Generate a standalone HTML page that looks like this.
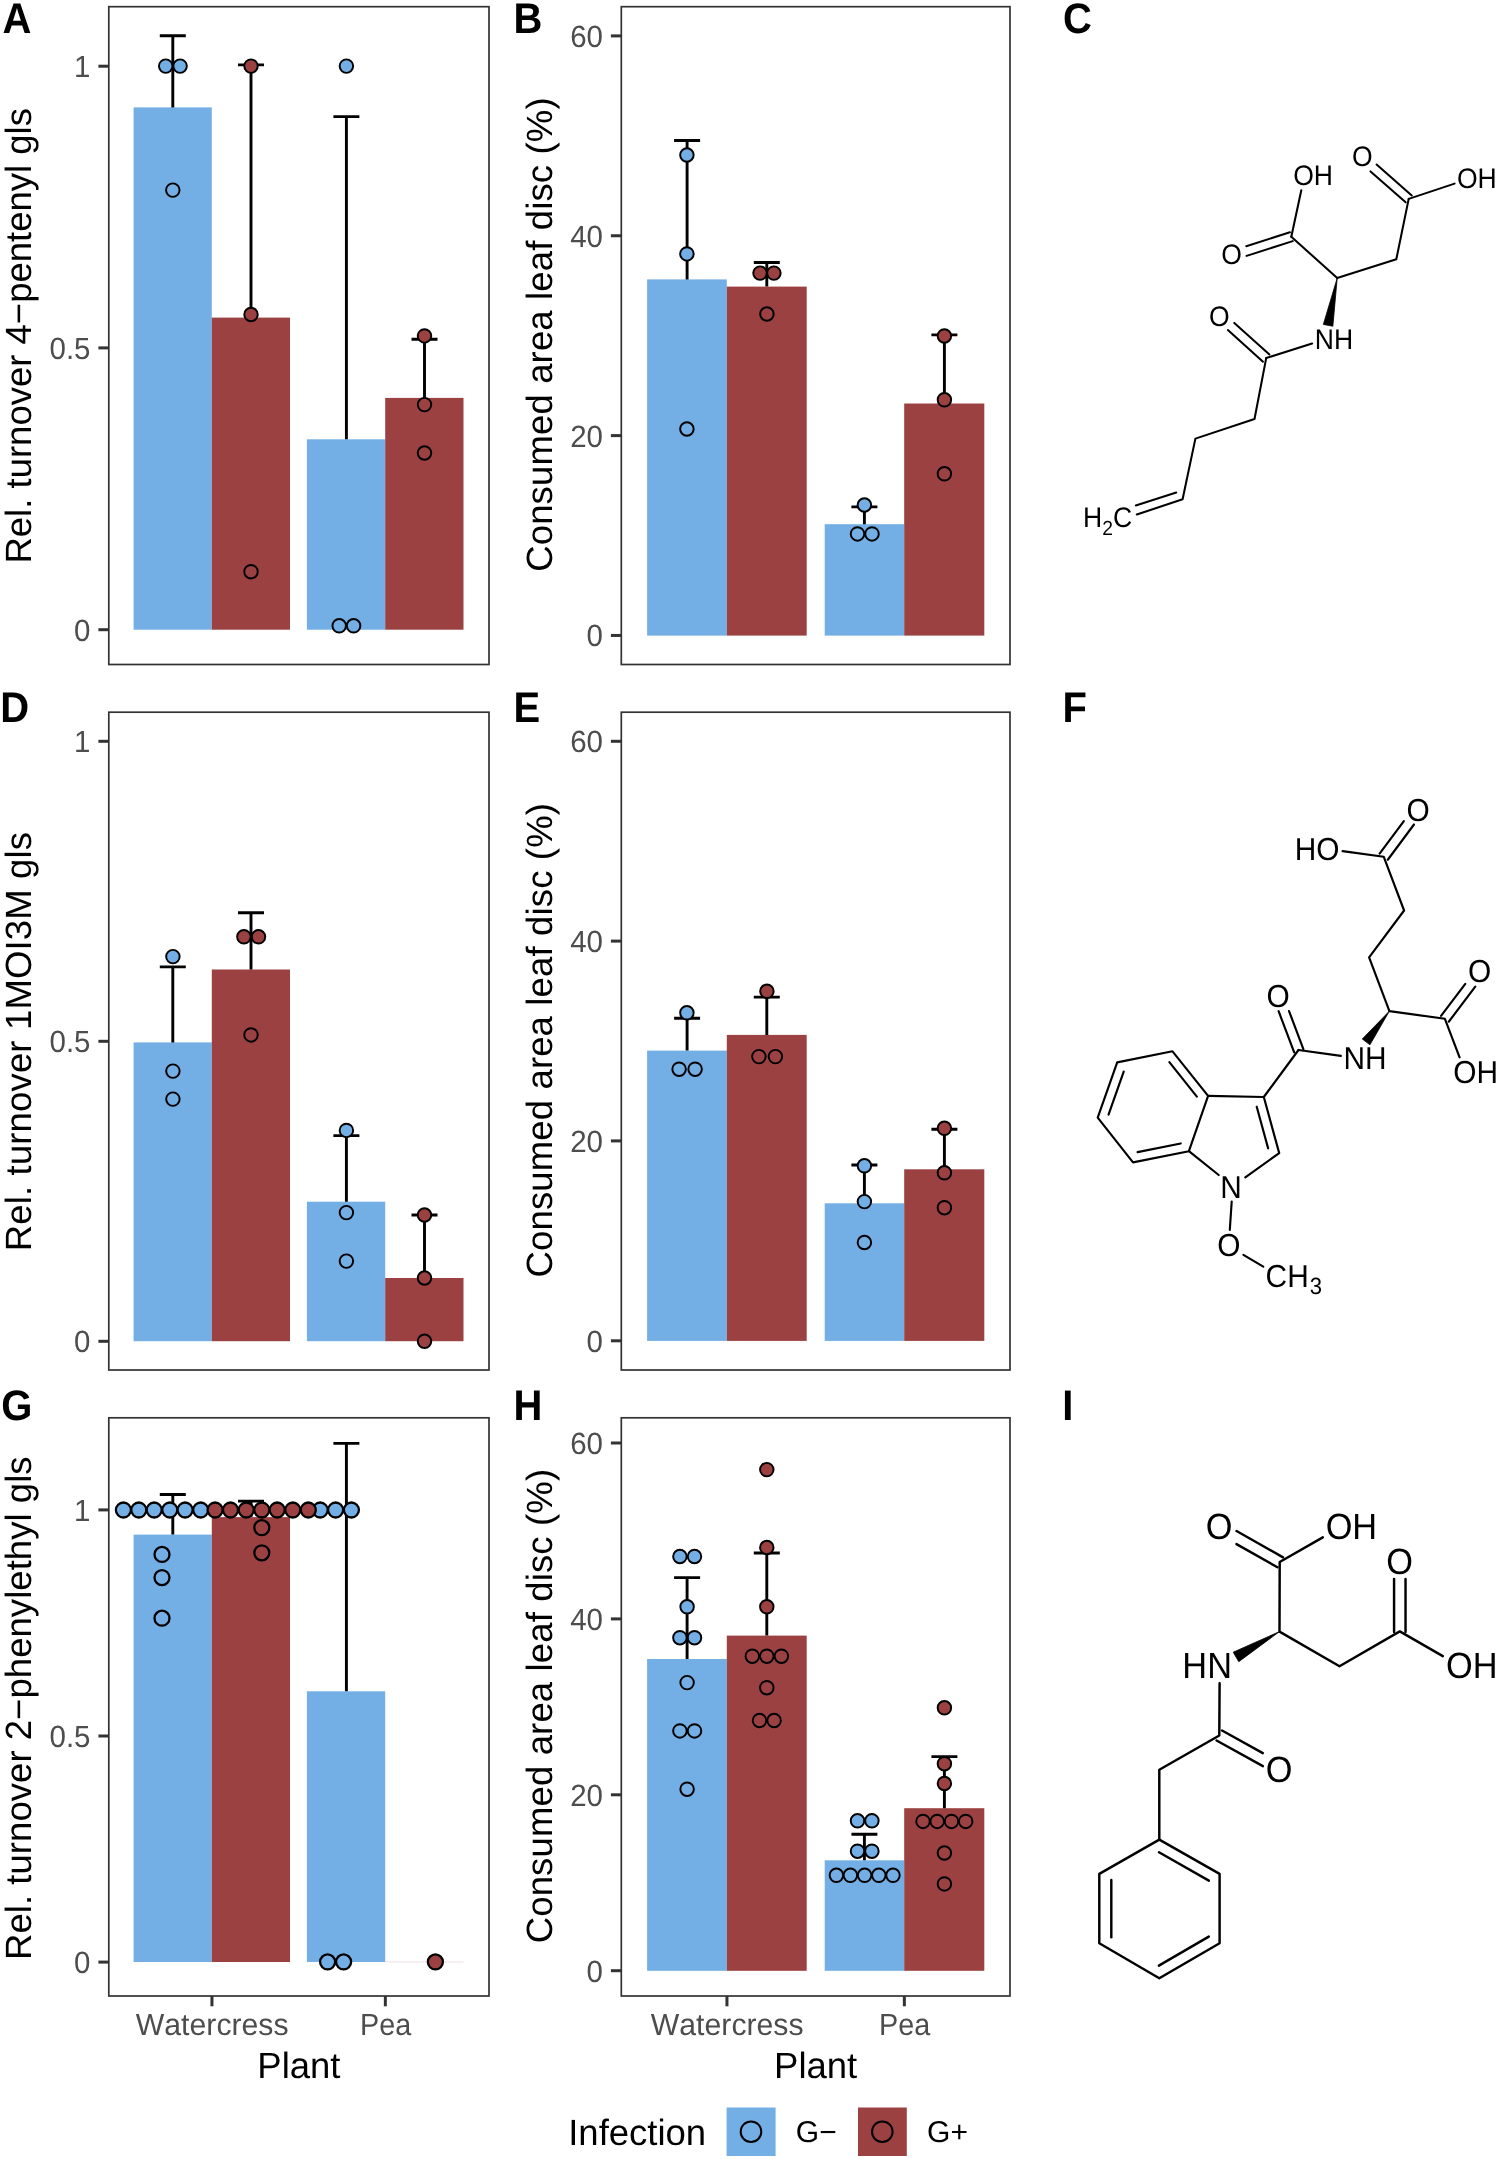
<!DOCTYPE html>
<html lang="en">
<head>
<meta charset="utf-8">
<title>Figure</title>
<style>
html,body{margin:0;padding:0;background:#fff;}
body{width:1499px;height:2159px;overflow:hidden;}
svg{display:block;will-change:transform;font-family:"Liberation Sans",sans-serif;font-kerning:none;text-rendering:geometricPrecision;}
</style>
</head>
<body>
<svg width="1499" height="2159" viewBox="0 0 1499 2159">
<rect width="1499" height="2159" fill="#ffffff"/>
<g class="charts">
<rect x="133.6" y="107.4" width="78.2" height="522.3" fill="#73AFE5"/>
<rect x="211.8" y="317.6" width="78.2" height="312.1" fill="#9B4142"/>
<rect x="306.9" y="439.3" width="78.3" height="190.4" fill="#73AFE5"/>
<rect x="385.2" y="397.9" width="78.3" height="231.8" fill="#9B4142"/>
<path d="M159.8 35.8H185.8M172.8 35.8V107.4" stroke="#000" stroke-width="2.9" fill="none"/>
<path d="M238 64.9H264M251 64.9V317.6" stroke="#000" stroke-width="2.9" fill="none"/>
<path d="M333.4 116.6H359.4M346.4 116.6V439.3" stroke="#000" stroke-width="2.9" fill="none"/>
<path d="M411.5 339.2H437.5M424.5 339.2V397.9" stroke="#000" stroke-width="2.9" fill="none"/>
<circle cx="165.7" cy="66.1" r="6.75" fill="#73AFE5" stroke="#000" stroke-width="1.95"/>
<circle cx="180.1" cy="66.1" r="6.75" fill="#73AFE5" stroke="#000" stroke-width="1.95"/>
<circle cx="172.8" cy="190.1" r="6.75" fill="#73AFE5" stroke="#000" stroke-width="1.95"/>
<circle cx="251" cy="66.1" r="6.75" fill="#9B4142" stroke="#000" stroke-width="1.95"/>
<circle cx="251" cy="314.5" r="6.75" fill="#9B4142" stroke="#000" stroke-width="1.95"/>
<circle cx="251" cy="571.7" r="6.75" fill="#9B4142" stroke="#000" stroke-width="1.95"/>
<circle cx="346.4" cy="66.1" r="6.75" fill="#73AFE5" stroke="#000" stroke-width="1.95"/>
<circle cx="339.2" cy="625.8" r="6.75" fill="#73AFE5" stroke="#000" stroke-width="1.95"/>
<circle cx="353.6" cy="625.8" r="6.75" fill="#73AFE5" stroke="#000" stroke-width="1.95"/>
<circle cx="424.5" cy="335.9" r="6.75" fill="#9B4142" stroke="#000" stroke-width="1.95"/>
<circle cx="424.5" cy="404.6" r="6.75" fill="#9B4142" stroke="#000" stroke-width="1.95"/>
<circle cx="424.5" cy="453" r="6.75" fill="#9B4142" stroke="#000" stroke-width="1.95"/>
<rect x="108.8" y="6.7" width="380.2" height="657.8" fill="none" stroke="#333333" stroke-width="1.7"/>
<line x1="98.4" x2="108.8" y1="66.2" y2="66.2" stroke="#333333" stroke-width="3"/>
<text x="90.5" y="77.15" font-size="30.7" fill="#4D4D4D" text-anchor="end" textLength="16.4" lengthAdjust="spacingAndGlyphs">1</text>
<line x1="98.4" x2="108.8" y1="347.9" y2="347.9" stroke="#333333" stroke-width="3"/>
<text x="90.5" y="358.85" font-size="30.7" fill="#4D4D4D" text-anchor="end" textLength="41.01" lengthAdjust="spacingAndGlyphs">0.5</text>
<line x1="98.4" x2="108.8" y1="629.7" y2="629.7" stroke="#333333" stroke-width="3"/>
<text x="90.5" y="640.65" font-size="30.7" fill="#4D4D4D" text-anchor="end" textLength="16.4" lengthAdjust="spacingAndGlyphs">0</text>
<text transform="translate(31.1 335.8) rotate(-90)" font-size="36.5" fill="#000" text-anchor="middle">Rel. turnover 4−pentenyl gls</text>
<text transform="translate(2.6 32.7) scale(0.935 1)" font-size="42.8" font-weight="bold" fill="#000">A</text>
<rect x="647.1" y="279.4" width="79.7" height="356.2" fill="#73AFE5"/>
<rect x="726.8" y="286.6" width="79.9" height="349" fill="#9B4142"/>
<rect x="824.7" y="524.2" width="79.5" height="111.4" fill="#73AFE5"/>
<rect x="904.2" y="403.5" width="80.1" height="232.1" fill="#9B4142"/>
<path d="M674.1 140.5H700.1M687.1 140.5V279.4" stroke="#000" stroke-width="2.9" fill="none"/>
<path d="M753.8 262.5H779.8M766.8 262.5V286.6" stroke="#000" stroke-width="2.9" fill="none"/>
<path d="M851.4 506.9H877.4M864.4 506.9V524.2" stroke="#000" stroke-width="2.9" fill="none"/>
<path d="M931.4 334.9H957.4M944.4 334.9V403.5" stroke="#000" stroke-width="2.9" fill="none"/>
<circle cx="686.9" cy="155" r="6.75" fill="#73AFE5" stroke="#000" stroke-width="1.95"/>
<circle cx="686.9" cy="253.9" r="6.75" fill="#73AFE5" stroke="#000" stroke-width="1.95"/>
<circle cx="686.9" cy="429" r="6.75" fill="#73AFE5" stroke="#000" stroke-width="1.95"/>
<circle cx="760" cy="273.1" r="6.75" fill="#9B4142" stroke="#000" stroke-width="1.95"/>
<circle cx="773.9" cy="273.1" r="6.75" fill="#9B4142" stroke="#000" stroke-width="1.95"/>
<circle cx="766.9" cy="314" r="6.75" fill="#9B4142" stroke="#000" stroke-width="1.95"/>
<circle cx="864.4" cy="505" r="6.75" fill="#73AFE5" stroke="#000" stroke-width="1.95"/>
<circle cx="857.5" cy="533.9" r="6.75" fill="#73AFE5" stroke="#000" stroke-width="1.95"/>
<circle cx="872" cy="533.9" r="6.75" fill="#73AFE5" stroke="#000" stroke-width="1.95"/>
<circle cx="944.4" cy="336" r="6.75" fill="#9B4142" stroke="#000" stroke-width="1.95"/>
<circle cx="944.4" cy="399.8" r="6.75" fill="#9B4142" stroke="#000" stroke-width="1.95"/>
<circle cx="944.4" cy="473.8" r="6.75" fill="#9B4142" stroke="#000" stroke-width="1.95"/>
<rect x="621.3" y="6.7" width="388.7" height="657.8" fill="none" stroke="#333333" stroke-width="1.7"/>
<line x1="610.9" x2="621.3" y1="35.9" y2="35.9" stroke="#333333" stroke-width="3"/>
<text x="603" y="46.85" font-size="30.7" fill="#4D4D4D" text-anchor="end" textLength="32.8" lengthAdjust="spacingAndGlyphs">60</text>
<line x1="610.9" x2="621.3" y1="235.75" y2="235.75" stroke="#333333" stroke-width="3"/>
<text x="603" y="246.7" font-size="30.7" fill="#4D4D4D" text-anchor="end" textLength="32.8" lengthAdjust="spacingAndGlyphs">40</text>
<line x1="610.9" x2="621.3" y1="435.6" y2="435.6" stroke="#333333" stroke-width="3"/>
<text x="603" y="446.55" font-size="30.7" fill="#4D4D4D" text-anchor="end" textLength="32.8" lengthAdjust="spacingAndGlyphs">20</text>
<line x1="610.9" x2="621.3" y1="635.45" y2="635.45" stroke="#333333" stroke-width="3"/>
<text x="603" y="646.4" font-size="30.7" fill="#4D4D4D" text-anchor="end" textLength="16.4" lengthAdjust="spacingAndGlyphs">0</text>
<text transform="translate(552.1 334.6) rotate(-90)" font-size="36.5" fill="#000" text-anchor="middle" textLength="474.4" lengthAdjust="spacing">Consumed area leaf disc (%)</text>
<text transform="translate(513.5 32.7) scale(0.935 1)" font-size="42.8" font-weight="bold" fill="#000">B</text>
<rect x="133.6" y="1042.4" width="78.2" height="298.8" fill="#73AFE5"/>
<rect x="211.8" y="969.5" width="78.2" height="371.7" fill="#9B4142"/>
<rect x="306.9" y="1201.7" width="78.3" height="139.5" fill="#73AFE5"/>
<rect x="385.2" y="1278" width="78.3" height="63.2" fill="#9B4142"/>
<path d="M159.8 966.9H185.8M172.8 966.9V1042.4" stroke="#000" stroke-width="2.9" fill="none"/>
<path d="M238 912.8H264M251 912.8V969.5" stroke="#000" stroke-width="2.9" fill="none"/>
<path d="M333.4 1135.6H359.4M346.4 1135.6V1201.7" stroke="#000" stroke-width="2.9" fill="none"/>
<path d="M411.5 1215H437.5M424.5 1215V1278" stroke="#000" stroke-width="2.9" fill="none"/>
<circle cx="172.9" cy="956.6" r="6.75" fill="#73AFE5" stroke="#000" stroke-width="1.95"/>
<circle cx="172.9" cy="1071.1" r="6.75" fill="#73AFE5" stroke="#000" stroke-width="1.95"/>
<circle cx="172.9" cy="1099.1" r="6.75" fill="#73AFE5" stroke="#000" stroke-width="1.95"/>
<circle cx="243.9" cy="936.8" r="6.75" fill="#9B4142" stroke="#000" stroke-width="1.95"/>
<circle cx="258.5" cy="936.8" r="6.75" fill="#9B4142" stroke="#000" stroke-width="1.95"/>
<circle cx="251" cy="1034.9" r="6.75" fill="#9B4142" stroke="#000" stroke-width="1.95"/>
<circle cx="346.4" cy="1130.4" r="6.75" fill="#73AFE5" stroke="#000" stroke-width="1.95"/>
<circle cx="346.4" cy="1212.6" r="6.75" fill="#73AFE5" stroke="#000" stroke-width="1.95"/>
<circle cx="346.4" cy="1261.1" r="6.75" fill="#73AFE5" stroke="#000" stroke-width="1.95"/>
<circle cx="424.5" cy="1215" r="6.75" fill="#9B4142" stroke="#000" stroke-width="1.95"/>
<circle cx="424.5" cy="1278" r="6.75" fill="#9B4142" stroke="#000" stroke-width="1.95"/>
<circle cx="424.5" cy="1341.3" r="6.75" fill="#9B4142" stroke="#000" stroke-width="1.95"/>
<rect x="108.8" y="712.2" width="380.2" height="657.8" fill="none" stroke="#333333" stroke-width="1.7"/>
<line x1="98.4" x2="108.8" y1="741.3" y2="741.3" stroke="#333333" stroke-width="3"/>
<text x="90.5" y="752.25" font-size="30.7" fill="#4D4D4D" text-anchor="end" textLength="16.4" lengthAdjust="spacingAndGlyphs">1</text>
<line x1="98.4" x2="108.8" y1="1041.3" y2="1041.3" stroke="#333333" stroke-width="3"/>
<text x="90.5" y="1052.25" font-size="30.7" fill="#4D4D4D" text-anchor="end" textLength="41.01" lengthAdjust="spacingAndGlyphs">0.5</text>
<line x1="98.4" x2="108.8" y1="1341.3" y2="1341.3" stroke="#333333" stroke-width="3"/>
<text x="90.5" y="1352.25" font-size="30.7" fill="#4D4D4D" text-anchor="end" textLength="16.4" lengthAdjust="spacingAndGlyphs">0</text>
<text transform="translate(31.1 1041.6) rotate(-90)" font-size="36.5" fill="#000" text-anchor="middle" textLength="419.2" lengthAdjust="spacing">Rel. turnover 1MOI3M gls</text>
<text transform="translate(0.3 722.3) scale(0.935 1)" font-size="42.8" font-weight="bold" fill="#000">D</text>
<rect x="647.1" y="1050.6" width="79.7" height="290.3" fill="#73AFE5"/>
<rect x="726.8" y="1034.9" width="79.9" height="306" fill="#9B4142"/>
<rect x="824.7" y="1203.3" width="79.5" height="137.6" fill="#73AFE5"/>
<rect x="904.2" y="1169.3" width="80.1" height="171.6" fill="#9B4142"/>
<path d="M674.1 1018.2H700.1M687.1 1018.2V1050.6" stroke="#000" stroke-width="2.9" fill="none"/>
<path d="M753.8 997.1H779.8M766.8 997.1V1034.9" stroke="#000" stroke-width="2.9" fill="none"/>
<path d="M851.4 1165H877.4M864.4 1165V1203.3" stroke="#000" stroke-width="2.9" fill="none"/>
<path d="M931.4 1129.3H957.4M944.4 1129.3V1169.3" stroke="#000" stroke-width="2.9" fill="none"/>
<circle cx="686.9" cy="1012.8" r="6.75" fill="#73AFE5" stroke="#000" stroke-width="1.95"/>
<circle cx="679.1" cy="1069.2" r="6.75" fill="#73AFE5" stroke="#000" stroke-width="1.95"/>
<circle cx="695.1" cy="1069.2" r="6.75" fill="#73AFE5" stroke="#000" stroke-width="1.95"/>
<circle cx="766.9" cy="991.3" r="6.75" fill="#9B4142" stroke="#000" stroke-width="1.95"/>
<circle cx="758.9" cy="1056.6" r="6.75" fill="#9B4142" stroke="#000" stroke-width="1.95"/>
<circle cx="775.4" cy="1056.6" r="6.75" fill="#9B4142" stroke="#000" stroke-width="1.95"/>
<circle cx="864.4" cy="1165.8" r="6.75" fill="#73AFE5" stroke="#000" stroke-width="1.95"/>
<circle cx="864.4" cy="1201.6" r="6.75" fill="#73AFE5" stroke="#000" stroke-width="1.95"/>
<circle cx="864.4" cy="1242.5" r="6.75" fill="#73AFE5" stroke="#000" stroke-width="1.95"/>
<circle cx="944.4" cy="1128.3" r="6.75" fill="#9B4142" stroke="#000" stroke-width="1.95"/>
<circle cx="944.4" cy="1172.8" r="6.75" fill="#9B4142" stroke="#000" stroke-width="1.95"/>
<circle cx="944.4" cy="1207.7" r="6.75" fill="#9B4142" stroke="#000" stroke-width="1.95"/>
<rect x="621.3" y="712.2" width="388.7" height="657.8" fill="none" stroke="#333333" stroke-width="1.7"/>
<line x1="610.9" x2="621.3" y1="741.3" y2="741.3" stroke="#333333" stroke-width="3"/>
<text x="603" y="752.25" font-size="30.7" fill="#4D4D4D" text-anchor="end" textLength="32.8" lengthAdjust="spacingAndGlyphs">60</text>
<line x1="610.9" x2="621.3" y1="941.1" y2="941.1" stroke="#333333" stroke-width="3"/>
<text x="603" y="952.05" font-size="30.7" fill="#4D4D4D" text-anchor="end" textLength="32.8" lengthAdjust="spacingAndGlyphs">40</text>
<line x1="610.9" x2="621.3" y1="1140.9" y2="1140.9" stroke="#333333" stroke-width="3"/>
<text x="603" y="1151.85" font-size="30.7" fill="#4D4D4D" text-anchor="end" textLength="32.8" lengthAdjust="spacingAndGlyphs">20</text>
<line x1="610.9" x2="621.3" y1="1340.8" y2="1340.8" stroke="#333333" stroke-width="3"/>
<text x="603" y="1351.75" font-size="30.7" fill="#4D4D4D" text-anchor="end" textLength="16.4" lengthAdjust="spacingAndGlyphs">0</text>
<text transform="translate(552.1 1040.3) rotate(-90)" font-size="36.5" fill="#000" text-anchor="middle" textLength="474.4" lengthAdjust="spacing">Consumed area leaf disc (%)</text>
<text transform="translate(513.5 722.3) scale(0.935 1)" font-size="42.8" font-weight="bold" fill="#000">E</text>
<rect x="133.6" y="1534.6" width="78.2" height="427.4" fill="#73AFE5"/>
<rect x="211.8" y="1517.1" width="78.2" height="444.9" fill="#9B4142"/>
<rect x="306.9" y="1691.3" width="78.3" height="270.7" fill="#73AFE5"/>
<rect x="385.2" y="1961.6" width="78.3" height="0.7" fill="#e8d3d4"/>
<path d="M159.8 1494.5H185.8M172.8 1494.5V1534.6" stroke="#000" stroke-width="2.9" fill="none"/>
<path d="M238 1501.1H264M251 1501.1V1517.1" stroke="#000" stroke-width="2.9" fill="none"/>
<path d="M333.4 1443.4H359.4M346.4 1443.4V1691.3" stroke="#000" stroke-width="2.9" fill="none"/>
<circle cx="123.4" cy="1510" r="7.5" fill="#73AFE5" stroke="#000" stroke-width="2.3"/>
<circle cx="138.8" cy="1510" r="7.5" fill="#73AFE5" stroke="#000" stroke-width="2.3"/>
<circle cx="154.2" cy="1510" r="7.5" fill="#73AFE5" stroke="#000" stroke-width="2.3"/>
<circle cx="169.8" cy="1510" r="7.5" fill="#73AFE5" stroke="#000" stroke-width="2.3"/>
<circle cx="185.1" cy="1510" r="7.5" fill="#73AFE5" stroke="#000" stroke-width="2.3"/>
<circle cx="200.7" cy="1510" r="7.5" fill="#73AFE5" stroke="#000" stroke-width="2.3"/>
<circle cx="162" cy="1554.4" r="7.5" fill="#73AFE5" stroke="#000" stroke-width="2.3"/>
<circle cx="162" cy="1577.6" r="7.5" fill="#73AFE5" stroke="#000" stroke-width="2.3"/>
<circle cx="162" cy="1618.2" r="7.5" fill="#73AFE5" stroke="#000" stroke-width="2.3"/>
<circle cx="320.2" cy="1510" r="7.5" fill="#73AFE5" stroke="#000" stroke-width="2.3"/>
<circle cx="335.6" cy="1510" r="7.5" fill="#73AFE5" stroke="#000" stroke-width="2.3"/>
<circle cx="351.4" cy="1510" r="7.5" fill="#73AFE5" stroke="#000" stroke-width="2.3"/>
<circle cx="327.6" cy="1961.9" r="7.5" fill="#73AFE5" stroke="#000" stroke-width="2.3"/>
<circle cx="343.6" cy="1961.9" r="7.5" fill="#73AFE5" stroke="#000" stroke-width="2.3"/>
<circle cx="215.1" cy="1510" r="7.5" fill="#9B4142" stroke="#000" stroke-width="2.3"/>
<circle cx="230.5" cy="1510" r="7.5" fill="#9B4142" stroke="#000" stroke-width="2.3"/>
<circle cx="246.2" cy="1510" r="7.5" fill="#9B4142" stroke="#000" stroke-width="2.3"/>
<circle cx="261.8" cy="1510" r="7.5" fill="#9B4142" stroke="#000" stroke-width="2.3"/>
<circle cx="277.2" cy="1510" r="7.5" fill="#9B4142" stroke="#000" stroke-width="2.3"/>
<circle cx="292.8" cy="1510" r="7.5" fill="#9B4142" stroke="#000" stroke-width="2.3"/>
<circle cx="308.3" cy="1510" r="7.5" fill="#9B4142" stroke="#000" stroke-width="2.3"/>
<circle cx="261.8" cy="1527.7" r="7.5" fill="#9B4142" stroke="#000" stroke-width="2.3"/>
<circle cx="261.8" cy="1552.8" r="7.5" fill="#9B4142" stroke="#000" stroke-width="2.3"/>
<circle cx="435.4" cy="1961.9" r="7.5" fill="#9B4142" stroke="#000" stroke-width="2.3"/>
<rect x="108.8" y="1417.8" width="380.2" height="578.2" fill="none" stroke="#333333" stroke-width="1.7"/>
<line x1="98.4" x2="108.8" y1="1509.9" y2="1509.9" stroke="#333333" stroke-width="3"/>
<text x="90.5" y="1520.85" font-size="30.7" fill="#4D4D4D" text-anchor="end" textLength="16.4" lengthAdjust="spacingAndGlyphs">1</text>
<line x1="98.4" x2="108.8" y1="1736" y2="1736" stroke="#333333" stroke-width="3"/>
<text x="90.5" y="1746.95" font-size="30.7" fill="#4D4D4D" text-anchor="end" textLength="41.01" lengthAdjust="spacingAndGlyphs">0.5</text>
<line x1="98.4" x2="108.8" y1="1962.1" y2="1962.1" stroke="#333333" stroke-width="3"/>
<text x="90.5" y="1973.05" font-size="30.7" fill="#4D4D4D" text-anchor="end" textLength="16.4" lengthAdjust="spacingAndGlyphs">0</text>
<text transform="translate(31.1 1708.2) rotate(-90)" font-size="36.5" fill="#000" text-anchor="middle" textLength="503.5" lengthAdjust="spacing">Rel. turnover 2−phenylethyl gls</text>
<text transform="translate(1.2 1420.2) scale(0.935 1)" font-size="42.8" font-weight="bold" fill="#000">G</text>
<rect x="647.1" y="1659" width="79.7" height="311.8" fill="#73AFE5"/>
<rect x="726.8" y="1635.6" width="79.9" height="335.2" fill="#9B4142"/>
<rect x="824.7" y="1860.3" width="79.5" height="110.5" fill="#73AFE5"/>
<rect x="904.2" y="1808.2" width="80.1" height="162.6" fill="#9B4142"/>
<path d="M674.1 1577.6H700.1M687.1 1577.6V1659" stroke="#000" stroke-width="2.9" fill="none"/>
<path d="M753.8 1553H779.8M766.8 1553V1635.6" stroke="#000" stroke-width="2.9" fill="none"/>
<path d="M851.4 1834.3H877.4M864.4 1834.3V1860.3" stroke="#000" stroke-width="2.9" fill="none"/>
<path d="M931.4 1756.6H957.4M944.4 1756.6V1808.2" stroke="#000" stroke-width="2.9" fill="none"/>
<circle cx="679.9" cy="1556.5" r="6.75" fill="#73AFE5" stroke="#000" stroke-width="1.95"/>
<circle cx="694.5" cy="1556.5" r="6.75" fill="#73AFE5" stroke="#000" stroke-width="1.95"/>
<circle cx="687.1" cy="1606.8" r="6.75" fill="#73AFE5" stroke="#000" stroke-width="1.95"/>
<circle cx="679.9" cy="1637.7" r="6.75" fill="#73AFE5" stroke="#000" stroke-width="1.95"/>
<circle cx="694.5" cy="1637.7" r="6.75" fill="#73AFE5" stroke="#000" stroke-width="1.95"/>
<circle cx="687.1" cy="1682.6" r="6.75" fill="#73AFE5" stroke="#000" stroke-width="1.95"/>
<circle cx="679.9" cy="1730.9" r="6.75" fill="#73AFE5" stroke="#000" stroke-width="1.95"/>
<circle cx="694.5" cy="1730.9" r="6.75" fill="#73AFE5" stroke="#000" stroke-width="1.95"/>
<circle cx="687.1" cy="1789.2" r="6.75" fill="#73AFE5" stroke="#000" stroke-width="1.95"/>
<circle cx="857.5" cy="1820.8" r="6.75" fill="#73AFE5" stroke="#000" stroke-width="1.95"/>
<circle cx="871.9" cy="1820.8" r="6.75" fill="#73AFE5" stroke="#000" stroke-width="1.95"/>
<circle cx="857.5" cy="1851.2" r="6.75" fill="#73AFE5" stroke="#000" stroke-width="1.95"/>
<circle cx="871.9" cy="1851.2" r="6.75" fill="#73AFE5" stroke="#000" stroke-width="1.95"/>
<circle cx="836.4" cy="1875.3" r="6.75" fill="#73AFE5" stroke="#000" stroke-width="1.95"/>
<circle cx="850.4" cy="1875.3" r="6.75" fill="#73AFE5" stroke="#000" stroke-width="1.95"/>
<circle cx="864.6" cy="1875.3" r="6.75" fill="#73AFE5" stroke="#000" stroke-width="1.95"/>
<circle cx="878.8" cy="1875.3" r="6.75" fill="#73AFE5" stroke="#000" stroke-width="1.95"/>
<circle cx="893" cy="1875.3" r="6.75" fill="#73AFE5" stroke="#000" stroke-width="1.95"/>
<circle cx="766.8" cy="1469.6" r="6.75" fill="#9B4142" stroke="#000" stroke-width="1.95"/>
<circle cx="766.8" cy="1547.5" r="6.75" fill="#9B4142" stroke="#000" stroke-width="1.95"/>
<circle cx="766.8" cy="1606.8" r="6.75" fill="#9B4142" stroke="#000" stroke-width="1.95"/>
<circle cx="752.3" cy="1656.2" r="6.75" fill="#9B4142" stroke="#000" stroke-width="1.95"/>
<circle cx="766.8" cy="1656.2" r="6.75" fill="#9B4142" stroke="#000" stroke-width="1.95"/>
<circle cx="781.4" cy="1656.2" r="6.75" fill="#9B4142" stroke="#000" stroke-width="1.95"/>
<circle cx="766.8" cy="1687.7" r="6.75" fill="#9B4142" stroke="#000" stroke-width="1.95"/>
<circle cx="759.5" cy="1720.5" r="6.75" fill="#9B4142" stroke="#000" stroke-width="1.95"/>
<circle cx="774.1" cy="1720.5" r="6.75" fill="#9B4142" stroke="#000" stroke-width="1.95"/>
<circle cx="944.4" cy="1707.8" r="6.75" fill="#9B4142" stroke="#000" stroke-width="1.95"/>
<circle cx="944.4" cy="1763.7" r="6.75" fill="#9B4142" stroke="#000" stroke-width="1.95"/>
<circle cx="944.4" cy="1783.5" r="6.75" fill="#9B4142" stroke="#000" stroke-width="1.95"/>
<circle cx="923" cy="1821.4" r="6.75" fill="#9B4142" stroke="#000" stroke-width="1.95"/>
<circle cx="937.2" cy="1821.4" r="6.75" fill="#9B4142" stroke="#000" stroke-width="1.95"/>
<circle cx="951.5" cy="1821.4" r="6.75" fill="#9B4142" stroke="#000" stroke-width="1.95"/>
<circle cx="965.7" cy="1821.4" r="6.75" fill="#9B4142" stroke="#000" stroke-width="1.95"/>
<circle cx="944.4" cy="1853" r="6.75" fill="#9B4142" stroke="#000" stroke-width="1.95"/>
<circle cx="944.4" cy="1883.9" r="6.75" fill="#9B4142" stroke="#000" stroke-width="1.95"/>
<rect x="621.3" y="1417.8" width="388.7" height="578.2" fill="none" stroke="#333333" stroke-width="1.7"/>
<line x1="610.9" x2="621.3" y1="1443" y2="1443" stroke="#333333" stroke-width="3"/>
<text x="603" y="1453.95" font-size="30.7" fill="#4D4D4D" text-anchor="end" textLength="32.8" lengthAdjust="spacingAndGlyphs">60</text>
<line x1="610.9" x2="621.3" y1="1618.9" y2="1618.9" stroke="#333333" stroke-width="3"/>
<text x="603" y="1629.85" font-size="30.7" fill="#4D4D4D" text-anchor="end" textLength="32.8" lengthAdjust="spacingAndGlyphs">40</text>
<line x1="610.9" x2="621.3" y1="1794.8" y2="1794.8" stroke="#333333" stroke-width="3"/>
<text x="603" y="1805.75" font-size="30.7" fill="#4D4D4D" text-anchor="end" textLength="32.8" lengthAdjust="spacingAndGlyphs">20</text>
<line x1="610.9" x2="621.3" y1="1970.7" y2="1970.7" stroke="#333333" stroke-width="3"/>
<text x="603" y="1981.65" font-size="30.7" fill="#4D4D4D" text-anchor="end" textLength="16.4" lengthAdjust="spacingAndGlyphs">0</text>
<text transform="translate(552.1 1706.1) rotate(-90)" font-size="36.5" fill="#000" text-anchor="middle" textLength="474.4" lengthAdjust="spacing">Consumed area leaf disc (%)</text>
<text transform="translate(513.5 1420) scale(0.935 1)" font-size="42.8" font-weight="bold" fill="#000">H</text>
<line x1="211.95" x2="211.95" y1="1996" y2="2006.3" stroke="#333333" stroke-width="3"/>
<text x="212.2" y="2035.3" font-size="30.7" fill="#4D4D4D" text-anchor="middle" textLength="152.8" lengthAdjust="spacingAndGlyphs">Watercress</text>
<line x1="385.35" x2="385.35" y1="1996" y2="2006.3" stroke="#333333" stroke-width="3"/>
<text x="385.6" y="2035.3" font-size="30.7" fill="#4D4D4D" text-anchor="middle" textLength="51.2" lengthAdjust="spacingAndGlyphs">Pea</text>
<text x="298.9" y="2077.7" font-size="36.5" fill="#000" text-anchor="middle">Plant</text>
<line x1="726.95" x2="726.95" y1="1996" y2="2006.3" stroke="#333333" stroke-width="3"/>
<text x="727.2" y="2035.3" font-size="30.7" fill="#4D4D4D" text-anchor="middle" textLength="152.8" lengthAdjust="spacingAndGlyphs">Watercress</text>
<line x1="904.35" x2="904.35" y1="1996" y2="2006.3" stroke="#333333" stroke-width="3"/>
<text x="904.6" y="2035.3" font-size="30.7" fill="#4D4D4D" text-anchor="middle" textLength="51.2" lengthAdjust="spacingAndGlyphs">Pea</text>
<text x="815.65" y="2077.7" font-size="36.5" fill="#000" text-anchor="middle">Plant</text>
<text x="568.2" y="2145" font-size="36.5" fill="#000">Infection</text>
<rect x="726.6" y="2107.5" width="49" height="48.5" fill="#73AFE5"/>
<rect x="858" y="2107.5" width="48.8" height="48.5" fill="#9B4142"/>
<circle cx="751" cy="2131.7" r="10.3" fill="#73AFE5" stroke="#000" stroke-width="2.0"/>
<circle cx="882.3" cy="2131.7" r="10.3" fill="#9B4142" stroke="#000" stroke-width="2.0"/>
<text x="795.8" y="2142.3" font-size="30" fill="#000">G−</text>
<text x="927.1" y="2142.3" font-size="30" fill="#000">G+</text>
</g>
<g class="chem">
<text transform="translate(1063 32.7) scale(0.935 1)" font-size="42.8" font-weight="bold" fill="#000">C</text>
<text transform="translate(1062.4 722.3) scale(0.935 1)" font-size="42.8" font-weight="bold" fill="#000">F</text>
<text transform="translate(1062.3 1420) scale(0.935 1)" font-size="42.8" font-weight="bold" fill="#000">I</text>
<polyline points="1291.3,236.7 1337.2,278.1 1396.3,259.3 1408.7,198.9" fill="none" stroke="#000" stroke-width="2.05" stroke-linejoin="round" stroke-linecap="round"/>
<line x1="1291.3" y1="236.7" x2="1301.3" y2="190.2" stroke="#000" stroke-width="2.05" stroke-linecap="round"/>
<line x1="1292.71" y1="241.13" x2="1246.54" y2="255.88" stroke="#000" stroke-width="2.05" stroke-linecap="round"/>
<line x1="1289.89" y1="232.27" x2="1246.28" y2="246.2" stroke="#000" stroke-width="2.05" stroke-linecap="round"/>
<line x1="1405.66" y1="202.35" x2="1370.53" y2="171.45" stroke="#000" stroke-width="2.05" stroke-linecap="round"/>
<line x1="1411.74" y1="195.45" x2="1376.6" y2="164.54" stroke="#000" stroke-width="2.05" stroke-linecap="round"/>
<line x1="1408.7" y1="198.9" x2="1454.6" y2="183.6" stroke="#000" stroke-width="2.05" stroke-linecap="round"/>
<polygon points="1337.2,278.1 1323.34,324.38 1332.86,326.22" fill="#000" stroke="#000" stroke-width="0.8" stroke-linejoin="round"/>
<line x1="1312.1" y1="343.6" x2="1266.2" y2="358.1" stroke="#000" stroke-width="2.05" stroke-linecap="round"/>
<line x1="1262.99" y1="361.67" x2="1227.88" y2="330.07" stroke="#000" stroke-width="2.05" stroke-linecap="round"/>
<line x1="1269.41" y1="354.53" x2="1234.3" y2="322.94" stroke="#000" stroke-width="2.05" stroke-linecap="round"/>
<polyline points="1266.2,358.1 1254.5,419 1195.4,438.6 1182.6,499.3 1136.8,514.5" fill="none" stroke="#000" stroke-width="2.05" stroke-linejoin="round" stroke-linecap="round"/>
<line x1="1176.3" y1="492.6" x2="1135.8" y2="505.5" stroke="#000" stroke-width="2.05" stroke-linecap="round"/>
<text transform="translate(1221.29 264.38) scale(0.94 1)" font-size="28.22" fill="#000">O</text>
<text transform="translate(1351.99 166.18) scale(0.94 1)" font-size="28.22" fill="#000">O</text>
<text transform="translate(1208.89 325.58) scale(0.94 1)" font-size="28.22" fill="#000">O</text>
<text transform="translate(1293.19 185.28) scale(0.94 1)" font-size="28.22" fill="#000">OH</text>
<text transform="translate(1456.99 187.88) scale(0.94 1)" font-size="28.22" fill="#000">OH</text>
<text transform="translate(1314.73 348.68) scale(0.94 1)" font-size="28.22" fill="#000">NH</text>
<text transform="translate(1083 527.3) scale(0.94 1)" font-size="28.22" fill="#000">H<tspan font-size="20.5" dy="7.6">2</tspan><tspan dy="-7.6">C</tspan></text>
<polyline points="1342.6,851.1 1383.7,856.7 1404.1,910.5 1369.1,957.3 1389.4,1011.1 1444.9,1018.8 1459.6,1057.3" fill="none" stroke="#000" stroke-width="2.15" stroke-linejoin="round" stroke-linecap="round"/>
<line x1="1379.61" y1="853.66" x2="1403.85" y2="821.06" stroke="#000" stroke-width="2.15" stroke-linecap="round"/>
<line x1="1387.79" y1="859.74" x2="1414" y2="824.5" stroke="#000" stroke-width="2.15" stroke-linecap="round"/>
<line x1="1441.03" y1="1015.87" x2="1465.31" y2="983.8" stroke="#000" stroke-width="2.15" stroke-linecap="round"/>
<line x1="1448.77" y1="1021.73" x2="1475.27" y2="986.71" stroke="#000" stroke-width="2.15" stroke-linecap="round"/>
<polygon points="1389.4,1011.1 1362.27,1039 1369.93,1044.8" fill="#000" stroke="#000" stroke-width="0.8" stroke-linejoin="round"/>
<line x1="1340.9" y1="1055.9" x2="1298.5" y2="1050" stroke="#000" stroke-width="2.15" stroke-linecap="round"/>
<line x1="1294.2" y1="1052.48" x2="1278.6" y2="1011.22" stroke="#000" stroke-width="2.15" stroke-linecap="round"/>
<line x1="1303.37" y1="1049.02" x2="1289.04" y2="1011.12" stroke="#000" stroke-width="2.15" stroke-linecap="round"/>
<line x1="1298.5" y1="1050" x2="1263.8" y2="1097" stroke="#000" stroke-width="2.15" stroke-linecap="round"/>
<polygon points="1117.2,1062.4 1172.5,1051.3 1208.1,1095.9 1188.9,1151.2 1133,1162.4 1097.7,1117.7" fill="none" stroke="#000" stroke-width="2.15" stroke-linejoin="round"/>
<line x1="1169.36" y1="1062.12" x2="1196.85" y2="1096.56" stroke="#000" stroke-width="2.15" stroke-linecap="round"/>
<line x1="1108.54" y1="1114.63" x2="1123.71" y2="1071.59" stroke="#000" stroke-width="2.15" stroke-linecap="round"/>
<line x1="1180.72" y1="1143.46" x2="1137.57" y2="1152.1" stroke="#000" stroke-width="2.15" stroke-linecap="round"/>
<polyline points="1208.1,1095.9 1263.8,1097 1279.2,1153.1 1245.3,1177.3" fill="none" stroke="#000" stroke-width="2.15" stroke-linejoin="round" stroke-linecap="round"/>
<line x1="1256.72" y1="1106.72" x2="1268.15" y2="1148.36" stroke="#000" stroke-width="2.15" stroke-linecap="round"/>
<line x1="1188.9" y1="1151.2" x2="1218.7" y2="1175" stroke="#000" stroke-width="2.15" stroke-linecap="round"/>
<line x1="1231.7" y1="1201.5" x2="1229.8" y2="1229.9" stroke="#000" stroke-width="2.15" stroke-linecap="round"/>
<line x1="1243.4" y1="1254.9" x2="1263.3" y2="1266.6" stroke="#000" stroke-width="2.15" stroke-linecap="round"/>
<text transform="translate(1406.61 820.81) scale(0.94 1)" font-size="31.74" fill="#000">O</text>
<text transform="translate(1467.91 982.31) scale(0.94 1)" font-size="31.74" fill="#000">O</text>
<text transform="translate(1266.61 1007.41) scale(0.94 1)" font-size="31.74" fill="#000">O</text>
<text transform="translate(1294.79 860.11) scale(0.94 1)" font-size="31.74" fill="#000">HO</text>
<text transform="translate(1453.31 1083.31) scale(0.94 1)" font-size="31.74" fill="#000">OH</text>
<text transform="translate(1343.44 1068.81) scale(0.94 1)" font-size="31.74" fill="#000">NH</text>
<text transform="translate(1220.34 1197.71) scale(0.94 1)" font-size="31.74" fill="#000">N</text>
<text transform="translate(1217.31 1256.31) scale(0.94 1)" font-size="31.74" fill="#000">O</text>
<text transform="translate(1265.6 1287.4) scale(0.94 1)" font-size="31.74" fill="#000">CH<tspan font-size="23.5" dx="1.2" dy="6.3">3</tspan></text>
<polyline points="1322.8,1537.4 1279.7,1562 1279.5,1631.6 1339.5,1666.2 1399.8,1631.4 1442.8,1656.1" fill="none" stroke="#000" stroke-width="2.45" stroke-linejoin="round" stroke-linecap="round"/>
<line x1="1277.42" y1="1567.26" x2="1236.5" y2="1544.12" stroke="#000" stroke-width="2.45" stroke-linecap="round"/>
<line x1="1283.03" y1="1557.33" x2="1236.54" y2="1531.05" stroke="#000" stroke-width="2.45" stroke-linecap="round"/>
<line x1="1394.07" y1="1632" x2="1394.07" y2="1578.9" stroke="#000" stroke-width="2.45" stroke-linecap="round"/>
<line x1="1405.53" y1="1632" x2="1405.53" y2="1578.9" stroke="#000" stroke-width="2.45" stroke-linecap="round"/>
<polygon points="1279.5,1631.6 1233.23,1652.2 1238.77,1661.7" fill="#000" stroke="#000" stroke-width="0.8" stroke-linejoin="round"/>
<polyline points="1219.6,1683.2 1219.3,1735.5 1159.3,1769.8 1159.3,1839.6" fill="none" stroke="#000" stroke-width="2.45" stroke-linejoin="round" stroke-linecap="round"/>
<line x1="1222.05" y1="1730.54" x2="1262.8" y2="1753.16" stroke="#000" stroke-width="2.45" stroke-linecap="round"/>
<line x1="1216.55" y1="1740.46" x2="1262.9" y2="1766.18" stroke="#000" stroke-width="2.45" stroke-linecap="round"/>
<polygon points="1159.3,1839.6 1219.6,1873.9 1219.6,1943.3 1159.3,1978.3 1099.3,1943.3 1099.3,1873.9" fill="none" stroke="#000" stroke-width="2.45" stroke-linejoin="round"/>
<line x1="1158.98" y1="1852.3" x2="1208.85" y2="1880.67" stroke="#000" stroke-width="2.45" stroke-linecap="round"/>
<line x1="1208.79" y1="1936.63" x2="1158.87" y2="1965.6" stroke="#000" stroke-width="2.45" stroke-linecap="round"/>
<line x1="1111.3" y1="1937.3" x2="1111.3" y2="1879.9" stroke="#000" stroke-width="2.45" stroke-linecap="round"/>
<text transform="translate(1205.66 1539.19) scale(0.94 1)" font-size="36.53" fill="#000">O</text>
<text transform="translate(1386.26 1573.69) scale(0.94 1)" font-size="36.53" fill="#000">O</text>
<text transform="translate(1265.86 1781.54) scale(0.94 1)" font-size="36.53" fill="#000">O</text>
<text transform="translate(1325.66 1539.09) scale(0.94 1)" font-size="36.53" fill="#000">OH</text>
<text transform="translate(1446.06 1678.19) scale(0.94 1)" font-size="36.53" fill="#000">OH</text>
<text transform="translate(1182.35 1677.59) scale(0.94 1)" font-size="36.53" fill="#000">HN</text>
</g>
</svg>
</body>
</html>
